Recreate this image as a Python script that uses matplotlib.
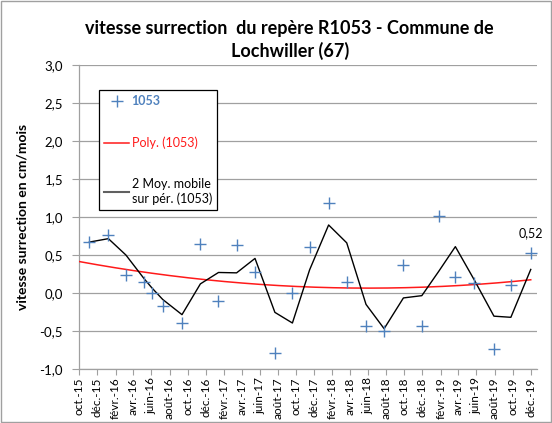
import numpy as np
import pandas as pd
import matplotlib
matplotlib.use("Agg")
import matplotlib.pyplot as plt
import matplotlib.dates as mdates
from matplotlib.lines import Line2D
from matplotlib.patches import Rectangle

plt.rcParams['font.family'] = ['Lato', 'DejaVu Sans']

# mesures du repere R1053
dates = ["2015-11-05", "2016-01-08", "2016-03-07", "2016-05-07", "2016-06-02",
         "2016-07-09", "2016-09-12", "2016-11-13", "2017-01-13", "2017-03-15",
         "2017-05-16", "2017-07-22", "2017-09-19", "2017-11-16", "2018-01-19",
         "2018-03-21", "2018-05-25", "2018-07-25", "2018-09-28", "2018-11-29",
         "2019-01-25", "2019-03-22", "2019-05-25", "2019-07-30", "2019-09-25",
         "2019-12-01"]
vitesse = [0.67, 0.76, 0.24, 0.14, 0.00, -0.17, -0.40, 0.64, -0.10, 0.63,
           0.28, -0.79, 0.00, 0.61, 1.18, 0.14, -0.44, -0.50, 0.37, -0.44,
           1.01, 0.21, 0.13, -0.74, 0.10, 0.52]

tick_dates = pd.date_range("2015-10-01", "2019-12-01", freq="2MS")
tick_labels = ["oct.-15", "déc.-15", "févr.-16", "avr.-16", "juin-16", "août-16",
               "oct.-16", "déc.-16", "févr.-17", "avr.-17", "juin-17", "août-17",
               "oct.-17", "déc.-17", "févr.-18", "avr.-18", "juin-18", "août-18",
               "oct.-18", "déc.-18", "févr.-19", "avr.-19", "juin-19", "août-19",
               "oct.-19", "déc.-19"]

df = pd.DataFrame({"date": pd.to_datetime(dates), "v": vitesse})
x = mdates.date2num(df["date"])

# moyenne mobile 2 periodes
ma = df["v"].rolling(2, min_periods=1).mean()

# tendance polynomiale ordre 2
xmin = mdates.date2num(pd.Timestamp("2015-10-01"))
xmax = mdates.date2num(pd.Timestamp("2019-12-22"))
coef = np.polyfit(x, df["v"], 2)
xp = np.linspace(xmin, x[-1], 200)
yp = np.polyval(coef, xp)

fig = plt.figure(figsize=(5.52, 4.23), dpi=100)
ax = fig.add_axes([0.1431, 0.1277, 0.9728 - 0.1431, 0.8463 - 0.1277])

grid_c = "#a0a0a0"
ax.plot(xp, yp, color="#ff1a1a", lw=1.1, zorder=3)
ax.plot(x, ma, color="black", lw=1.0, zorder=4)
ax.plot(x, df["v"], ls="none", marker="+", ms=8, mew=1.0, color="#4f81bd", zorder=5)

ax.annotate("0,52", (x[-1], vitesse[-1]), xytext=(0, 10), textcoords="offset points",
            ha="center", va="bottom", fontsize=9)

ax.set_xlim(xmin, xmax)
ax.set_ylim(-1.0, 3.0)
ax.set_yticks(np.arange(-1.0, 3.01, 0.5))
ax.set_yticklabels([f"{v:.1f}".replace(".", ",") for v in np.arange(-1.0, 3.01, 0.5)])
ax.set_xticks(mdates.date2num(tick_dates))
ax.set_xticklabels(tick_labels, rotation=90)
ax.tick_params(axis="y", labelsize=9.5, color=grid_c, length=5, width=0.8, pad=6.5)
ax.tick_params(axis="x", labelsize=8.5, color=grid_c, length=4, width=0.8, pad=2)
ax.grid(axis="y", color=grid_c, lw=0.9)
ax.set_axisbelow(True)
for s in ["top", "right"]:
    ax.spines[s].set_visible(False)
for s in ["left", "bottom"]:
    ax.spines[s].set_color(grid_c)
    ax.spines[s].set_linewidth(0.9)

ax.set_ylabel("vitesse surrection en cm/mois", fontsize=10, fontweight="bold", labelpad=8)

fig.text(0.525, 0.906, "vitesse surrection  du repère R1053 - Commune de\nLochwiller (67)",
         ha="center", va="center", fontsize=13, fontweight="bold", linespacing=1.35)

handles = [
    Line2D([], [], ls="none", marker="+", ms=8, mew=1.0, color="#4f81bd"),
    Line2D([], [], color="#ff1a1a", lw=1.1),
    Line2D([], [], color="#606060", lw=1.5),
]
labels = ["1053", "Poly. (1053)", "2 Moy. mobile\nsur pér. (1053)"]
leg = fig.legend(handles, labels, loc="upper left", bbox_to_anchor=(99 / 552, 1 - 90 / 423),
                 fontsize=9, fancybox=False, edgecolor="black", framealpha=1,
                 handlelength=2.0, handletextpad=0.2, labelspacing=2.35,
                 borderpad=0.4, borderaxespad=0)
leg.get_frame().set_linewidth(0.9)
txt = leg.get_texts()
txt[0].set_color("#4f81bd")
txt[0].set_fontweight("bold")
txt[1].set_color("#ff1a1a")

fig.patches.append(Rectangle((0.002, 0.002), 0.996, 0.996, transform=fig.transFigure,
                             fill=False, edgecolor="#a0a0a0", lw=1.0))

fig.savefig("out.png", dpi=100)
